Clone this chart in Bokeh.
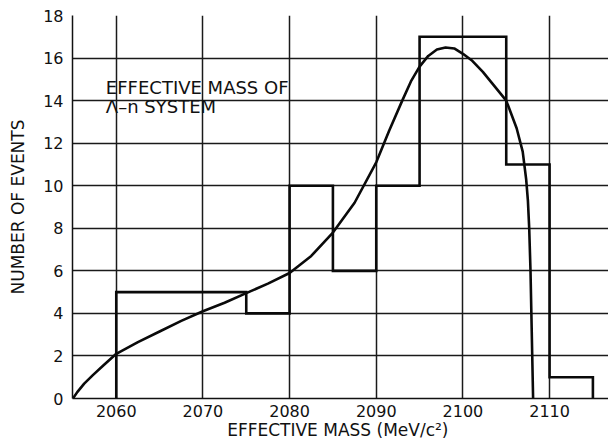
from bokeh.plotting import figure
from bokeh.models import Range1d, FixedTicker, Label
from bokeh.embed import file_html
from bokeh.resources import INLINE

# Histogram data
bin_edges = [2060, 2075, 2080, 2085, 2090, 2095, 2105, 2110, 2115]
bin_counts = [5, 4, 10, 6, 10, 17, 11, 1]

# Smooth fitted curve
curve_x = [2055.0, 2055.5, 2056.3, 2057.3, 2058.5, 2060.0, 2062.5, 2065.0, 2067.5,
           2070.0, 2072.5, 2075.0, 2077.5, 2080.0, 2082.5, 2085.0, 2087.5, 2090.0,
           2091.5, 2093.0, 2094.0, 2095.0, 2096.0, 2097.0, 2098.0, 2099.0, 2100.0,
           2101.0, 2102.3, 2103.5, 2105.0, 2106.2, 2106.9, 2107.3, 2107.5, 2107.65,
           2107.8, 2107.9, 2108.0, 2108.1]
curve_y = [0.0, 0.3, 0.7, 1.1, 1.55, 2.1, 2.65, 3.15, 3.65,
           4.1, 4.5, 4.95, 5.4, 5.9, 6.7, 7.8, 9.2, 11.1,
           12.6, 14.0, 14.9, 15.6, 16.1, 16.4, 16.5, 16.45, 16.2,
           15.9, 15.35, 14.75, 14.0, 12.7, 11.6, 10.3, 9.3, 8.0,
           6.0, 4.0, 2.0, 0.0]

x_ticks = [2060, 2070, 2080, 2090, 2100, 2110]
y_ticks = [0, 2, 4, 6, 8, 10, 12, 14, 16, 18]

FONT = "DejaVu Sans"
X0, X1 = 2054.95, 2116.8
Y0, Y1 = 0, 18

p = figure(width=608, height=442, output_backend="svg", toolbar_location=None,
           x_range=Range1d(X0, X1), y_range=Range1d(Y0, Y1),
           min_border_left=72, min_border_right=0, min_border_top=15, min_border_bottom=44)
p.outline_line_color = None
p.background_fill_color = "white"
p.border_fill_color = "white"
p.grid.grid_line_color = "#1a1a1a"
p.grid.grid_line_width = 1.5
p.grid.grid_line_alpha = 1.0

for ax in (p.xaxis[0], p.yaxis[0]):
    ax.major_tick_out = 0
    ax.major_tick_in = 0
    ax.minor_tick_out = 0
    ax.minor_tick_in = 0
    ax.axis_line_color = "#111111"
    ax.axis_line_width = 1.5
    ax.major_label_text_font = FONT
    ax.major_label_text_font_size = "16px"
    ax.major_label_text_color = "#111111"
    ax.axis_label_text_font = FONT
    ax.axis_label_text_font_size = "17px"
    ax.axis_label_text_font_style = "normal"
    ax.axis_label_text_color = "#111111"

p.xaxis.ticker = FixedTicker(ticks=x_ticks)
p.yaxis.ticker = FixedTicker(ticks=y_ticks)
p.xaxis.major_label_standoff = 6
p.yaxis.major_label_standoff = 9
p.xaxis.axis_label = "EFFECTIVE MASS  (MeV/c\u00b2)"
p.yaxis.axis_label = "NUMBER OF EVENTS"
p.xaxis.axis_label_standoff = 0
p.yaxis.axis_label_standoff = 12

# Build histogram step outline from edges and counts
hx, hy = [bin_edges[0]], [0]
for i, c in enumerate(bin_counts):
    hx += [bin_edges[i], bin_edges[i + 1]]
    hy += [c, c]
hx.append(bin_edges[-1])
hy.append(0)
p.line(hx, hy, line_color="#0a0a0a", line_width=2.6, line_join="miter")

p.line(curve_x, curve_y, line_color="#0a0a0a", line_width=2.6)

p.add_layout(Label(x=2058.8, y=14.61, text="EFFECTIVE MASS OF",
                   text_font=FONT, text_font_size="18px", text_color="#111111",
                   text_baseline="alphabetic"))
p.add_layout(Label(x=2058.8, y=13.72, text="\u039b\u2013n  SYSTEM",
                   text_font=FONT, text_font_size="18px", text_color="#111111",
                   text_baseline="alphabetic"))

open("out.html", "w").write(file_html(p, INLINE))
